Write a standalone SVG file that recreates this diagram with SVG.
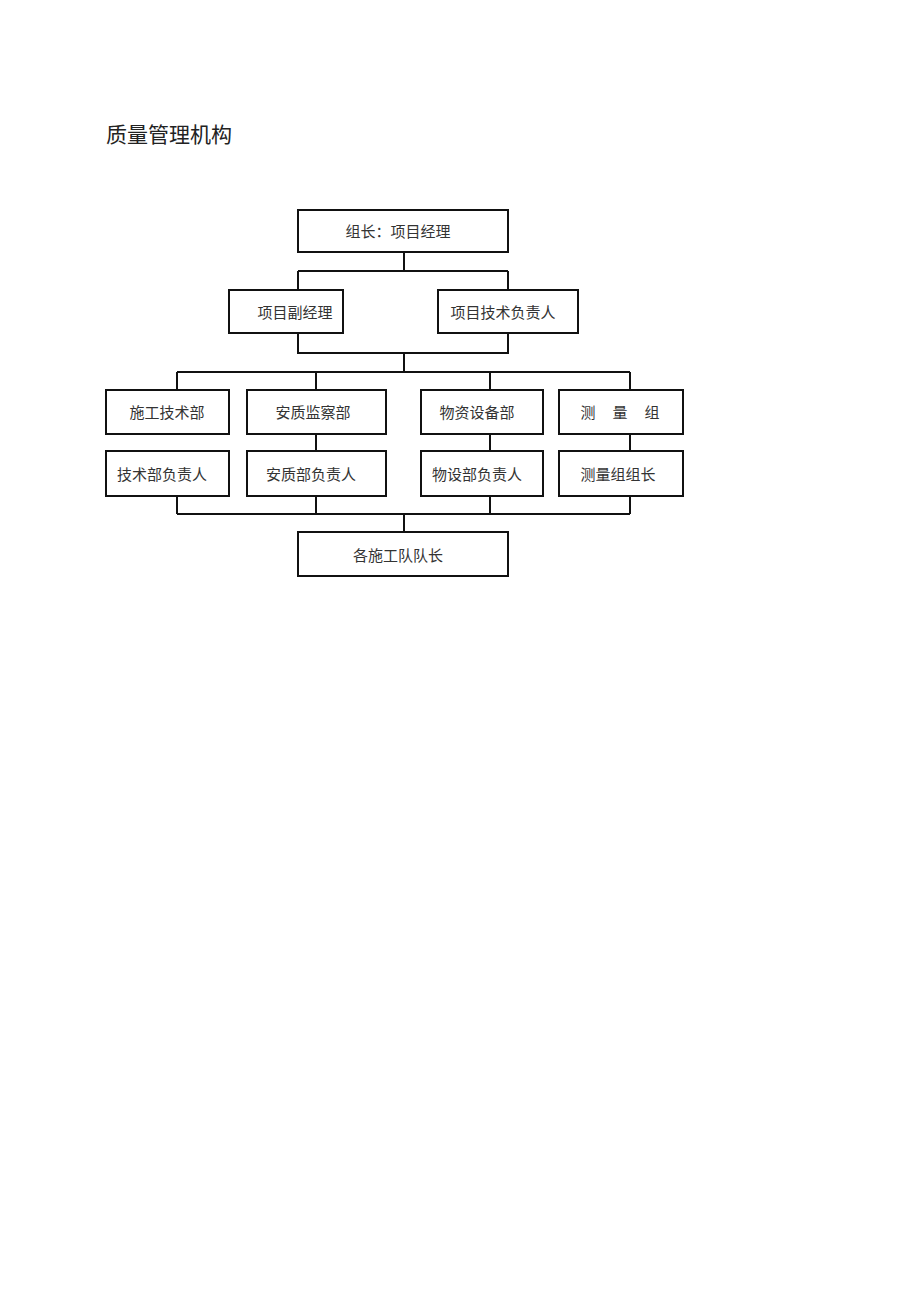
<svg xmlns="http://www.w3.org/2000/svg" width="920" height="1303" viewBox="0 0 920 1303">
<style>
.box{fill:#fff;stroke:#111;stroke-width:2}
.t{font-family:"Noto Sans CJK SC","Noto Sans",sans-serif;font-size:15px;fill:#333;text-anchor:middle;dominant-baseline:central}
.ln{stroke:#111;stroke-width:2;fill:none}
</style>
<rect width="920" height="1303" fill="#fff"/>
<text x="106" y="133" font-family="'Noto Sans CJK SC','Noto Sans',sans-serif" font-size="21" fill="#222" dominant-baseline="central">质量管理机构</text>
<g id="connectors">
<path class="ln" d="M404 252V271M298 271H508M298 271V290M508 271V290"/>
<path class="ln" d="M298 333V353H508V333M404 353V372M177 372H630M177 372V390M316 372V390M490 372V390M630 372V390"/>
<path class="ln" d="M316 434V451M490 434V451M630 434V451"/>
<path class="ln" d="M177 496V514M316 496V514M490 496V514M630 496V514M177 514H630M404 514V532"/>
</g>
<g id="n1"><rect class="box" x="298" y="210" width="210" height="42"/><text class="t" x="398" y="230">组长：项目经理</text></g>
<g id="n2"><rect class="box" x="229" y="290" width="114" height="43"/><text class="t" x="295" y="311">项目副经理</text></g>
<g id="n3"><rect class="box" x="438" y="290" width="140" height="43"/><text class="t" x="503" y="311">项目技术负责人</text></g>
<g id="n4"><rect class="box" x="106" y="390" width="123" height="44"/><text class="t" x="167" y="411">施工技术部</text></g>
<g id="n5"><rect class="box" x="247" y="390" width="139" height="44"/><text class="t" x="313" y="411">安质监察部</text></g>
<g id="n6"><rect class="box" x="421" y="390" width="122" height="44"/><text class="t" x="477" y="411">物资设备部</text></g>
<g id="n7"><rect class="box" x="559" y="390" width="124" height="44"/><text class="t" y="411"><tspan x="588">测</tspan><tspan x="620">量</tspan><tspan x="652">组</tspan></text></g>
<g id="n8"><rect class="box" x="106" y="451" width="123" height="45"/><text class="t" x="162" y="473">技术部负责人</text></g>
<g id="n9"><rect class="box" x="247" y="451" width="139" height="45"/><text class="t" x="311" y="473">安质部负责人</text></g>
<g id="n10"><rect class="box" x="421" y="451" width="122" height="45"/><text class="t" x="477" y="473">物设部负责人</text></g>
<g id="n11"><rect class="box" x="559" y="451" width="124" height="45"/><text class="t" x="618" y="473">测量组组长</text></g>
<g id="n12"><rect class="box" x="298" y="532" width="210" height="44"/><text class="t" x="398" y="554">各施工队队长</text></g>
</svg>
